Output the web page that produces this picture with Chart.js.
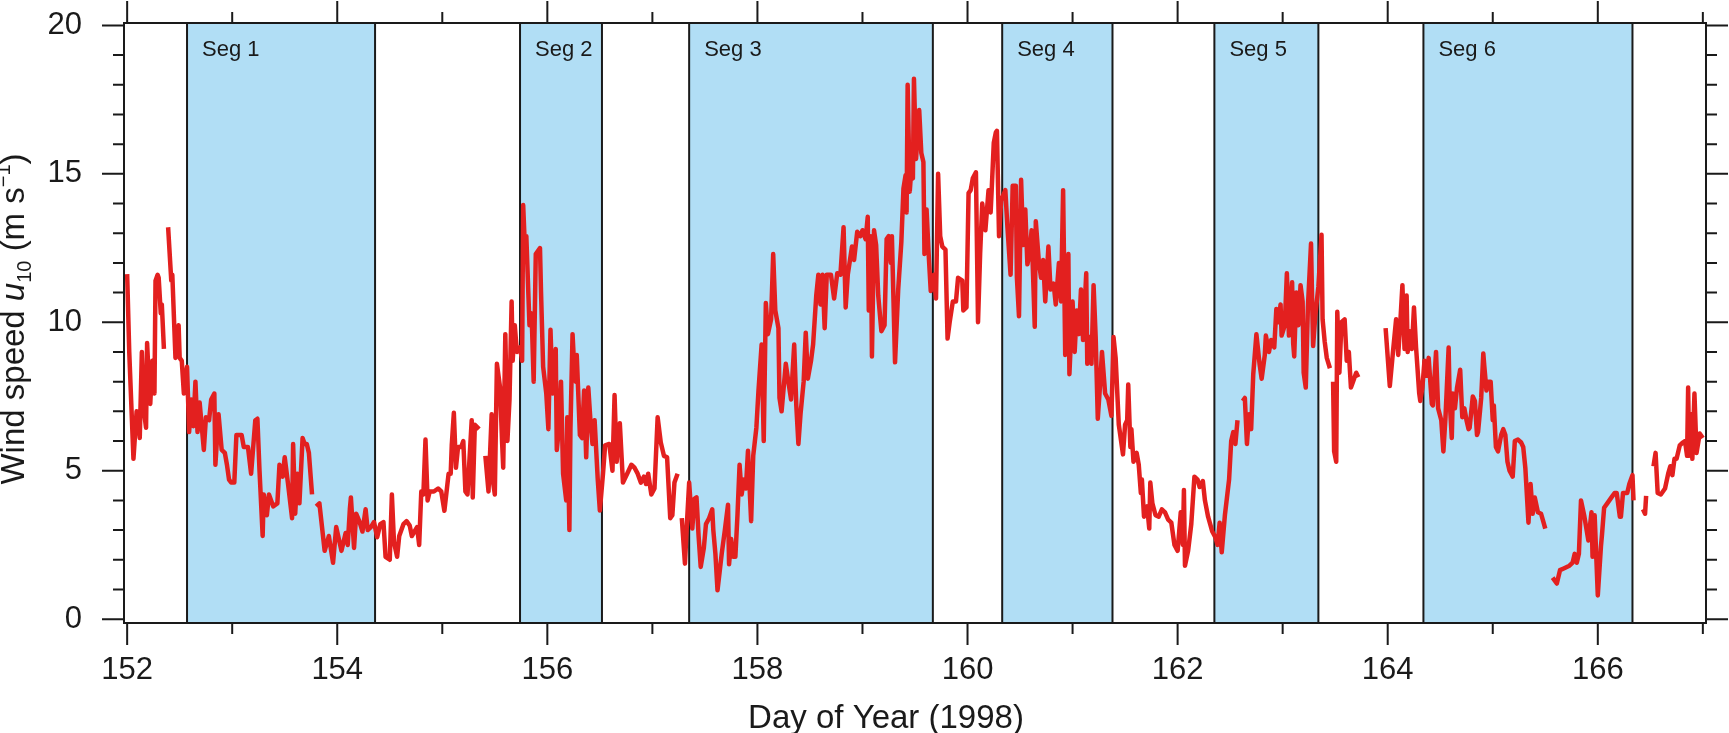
<!DOCTYPE html>
<html>
<head>
<meta charset="utf-8">
<title>Wind speed u10, Day of Year 1998</title>
<script src="https://cdn.jsdelivr.net/npm/chart.js@4.4.1/dist/chart.umd.min.js"></script>
<style>
    html, body { margin: 0; padding: 0; background: #fff; }
    #wrap { width: 1729px; height: 733px; }
</style>
</head>
<body>
<div id="wrap"><canvas id="windChart" width="1729" height="733"></canvas></div>
<script>
// Day of year (1998) and 10 m wind speed.
// A null speed marks a gap in the record.
const days = [
    152.00,152.02,152.06,152.09,152.11,152.12,152.14,152.16,152.18,152.19,
    152.21,152.22,152.24,152.26,152.27,152.29,152.30,152.32,152.33,152.35,
    152.37,152.39,152.42,152.43,152.46,152.49,152.50,152.52,152.54,152.57,
    152.59,152.61,152.63,152.65,152.67,152.69,152.71,152.73,152.75,152.78,
    152.80,152.83,152.84,152.87,152.90,152.93,152.95,152.97,152.99,153.02,
    153.04,153.09,153.11,153.15,153.18,153.22,153.24,153.26,153.29,153.30,
    153.33,153.35,153.39,153.43,153.45,153.48,153.50,153.53,153.57,153.58,
    153.60,153.62,153.64,153.67,153.69,153.71,153.73,153.76,153.78,153.80,
    153.83,153.88,153.92,153.96,153.99,154.04,154.08,154.10,154.12,154.13,
    154.16,154.18,154.21,154.24,154.27,154.29,154.32,154.35,154.38,154.41,
    154.44,154.46,154.50,154.52,154.54,154.57,154.59,154.63,154.66,154.69,
    154.71,154.76,154.78,154.80,154.82,154.84,154.86,154.88,154.92,154.96,
    154.99,155.02,155.06,155.08,155.09,155.11,155.13,155.15,155.18,155.20,
    155.22,155.24,155.28,155.29,155.31,155.35,155.38,155.41,155.44,155.47,
    155.48,155.50,155.52,155.55,155.57,155.58,155.60,155.62,155.64,155.66,
    155.67,155.69,155.71,155.74,155.76,155.77,155.79,155.80,155.83,155.85,
    155.87,155.89,155.93,155.94,155.96,155.99,156.01,156.03,156.05,156.08,
    156.09,156.11,156.13,156.15,156.18,156.19,156.21,156.22,156.24,156.25,
    156.27,156.28,156.31,156.33,156.35,156.37,156.39,156.41,156.43,156.45,
    156.48,156.50,156.53,156.55,156.59,156.62,156.64,156.66,156.69,156.72,
    156.76,156.80,156.83,156.86,156.89,156.92,156.94,156.96,156.99,157.02,
    157.05,157.08,157.11,157.14,157.17,157.19,157.21,157.24,157.26,157.28,
    157.31,157.33,157.35,157.38,157.40,157.42,157.44,157.46,157.49,157.51,
    157.54,157.57,157.58,157.60,157.62,157.66,157.69,157.72,157.73,157.75,
    157.77,157.79,157.81,157.83,157.85,157.87,157.89,157.91,157.94,157.96,
    157.99,158.01,158.04,158.06,158.08,158.10,158.13,158.15,158.17,158.20,
    158.21,158.23,158.27,158.29,158.32,158.35,158.37,158.39,158.41,158.44,
    158.46,158.48,158.51,158.53,158.56,158.58,158.60,158.62,158.64,158.66,
    158.70,158.73,158.76,158.79,158.82,158.84,158.86,158.90,158.92,158.95,
    158.98,159.00,159.03,159.05,159.06,159.08,159.09,159.11,159.13,159.15,
    159.18,159.21,159.23,159.25,159.27,159.28,159.31,159.34,159.37,159.39,
    159.41,159.42,159.43,159.45,159.46,159.48,159.49,159.51,159.54,159.56,
    159.58,159.59,159.61,159.63,159.65,159.68,159.70,159.72,159.74,159.76,
    159.79,159.81,159.83,159.86,159.89,159.91,159.95,159.96,159.99,160.01,
    160.03,160.05,160.08,160.10,160.12,160.14,160.17,160.20,160.22,160.23,
    160.25,160.27,160.28,160.30,160.32,160.36,160.38,160.41,160.43,160.46,
    160.47,160.49,160.51,160.53,160.55,160.57,160.59,160.61,160.64,160.65,
    160.68,160.70,160.72,160.74,160.77,160.79,160.82,160.84,160.87,160.89,
    160.91,160.93,160.96,160.97,161.00,161.02,161.04,161.06,161.08,161.10,
    161.13,161.14,161.16,161.18,161.20,161.22,161.24,161.26,161.28,161.31,
    161.34,161.37,161.39,161.41,161.44,161.48,161.50,161.52,161.53,161.55,
    161.56,161.58,161.61,161.63,161.65,161.66,161.68,161.71,161.73,161.74,
    161.76,161.79,161.82,161.85,161.88,161.91,161.94,161.97,162.00,162.03,
    162.05,162.06,162.07,162.10,162.13,162.16,162.19,162.21,162.24,162.26,
    162.29,162.33,162.36,162.38,162.40,162.42,162.45,162.49,162.51,162.53,
    162.55,162.57,162.60,162.62,162.64,162.66,162.68,162.70,162.72,162.75,
    162.78,162.80,162.83,162.84,162.87,162.89,162.92,162.94,162.96,162.98,
    162.99,163.02,163.04,163.06,163.09,163.10,163.11,163.13,163.15,163.17,
    163.19,163.20,163.22,163.24,163.27,163.28,163.29,163.31,163.34,163.37,
    163.38,163.40,163.42,163.45,163.47,163.48,163.49,163.51,163.52,163.54,
    163.56,163.59,163.61,163.63,163.65,163.67,163.70,163.72,163.85,163.98,
    164.02,164.05,164.08,164.10,164.12,164.14,164.16,164.18,164.19,164.21,
    164.23,164.25,164.27,164.30,164.31,164.33,164.35,164.37,164.39,164.42,
    164.43,164.46,164.48,164.51,164.53,164.55,164.58,164.59,164.61,164.62,
    164.64,164.66,164.69,164.71,164.73,164.75,164.77,164.78,164.81,164.83,
    164.85,164.86,164.89,164.91,164.92,164.94,164.96,164.98,165.00,165.01,
    165.03,165.05,165.08,165.10,165.12,165.14,165.16,165.19,165.21,165.24,
    165.27,165.29,165.31,165.34,165.36,165.38,165.40,165.43,165.46,165.48,
    165.50,165.53,165.57,165.61,165.64,165.67,165.70,165.73,165.76,165.78,
    165.80,165.82,165.84,165.87,165.91,165.94,165.95,165.97,166.00,166.03,
    166.04,166.06,166.09,166.13,166.16,166.18,166.21,166.22,166.24,166.28,
    166.30,166.33,166.34,166.38,166.43,166.45,166.46,166.50,166.53,166.55,
    166.57,166.60,166.64,166.67,166.69,166.71,166.73,166.75,166.78,166.81,
    166.83,166.85,166.86,166.87,166.89,166.90,166.92,166.94,166.97,167.00
];

const windSpeed = [
    11.62,9.0,5.4,7.0,6.6,6.1,9.0,7.0,6.45,9.3,
    7.8,7.25,8.7,7.6,11.4,11.6,11.5,10.3,10.6,9.1,
    null,13.2,11.4,11.6,8.8,9.9,8.8,8.7,7.6,8.5,
    6.3,7.4,6.5,8.0,6.3,7.3,6.5,5.7,6.8,6.7,
    7.4,7.6,5.2,6.9,5.7,5.6,5.2,4.7,4.6,4.6,
    6.2,6.2,5.8,5.8,4.9,6.7,6.75,5.0,2.8,4.2,
    3.5,4.2,3.8,3.9,5.2,4.8,5.45,4.6,3.4,5.9,
    3.55,4.9,3.9,6.1,5.9,5.9,5.6,4.2,null,3.8,
    3.9,2.3,2.8,1.9,3.1,2.3,2.9,2.5,3.7,4.1,
    2.4,3.55,3.3,2.95,3.7,3.0,3.1,3.27,2.76,3.2,
    3.27,2.1,2.0,4.2,2.6,2.1,2.8,3.2,3.3,3.15,
    2.8,3.1,2.5,4.3,4.2,6.05,4.0,4.3,4.3,4.4,
    4.3,3.65,4.9,4.9,5.85,6.95,5.1,5.8,5.8,6.0,
    4.3,4.2,6.7,4.1,6.55,6.4,null,5.5,4.3,6.9,
    4.7,4.2,8.6,7.8,5.9,5.1,9.6,6.0,7.4,10.7,
    8.7,9.9,9.0,9.15,8.7,13.95,12.2,12.9,9.9,10.3,
    8.0,12.3,12.5,11.0,8.5,7.6,6.4,9.75,7.6,9.1,
    5.7,6.4,8.0,4.9,4.0,6.8,3.0,6.4,9.6,8.9,
    8.0,8.9,6.2,6.1,7.7,5.45,7.8,6.7,5.9,6.7,
    4.7,3.66,4.9,5.85,5.9,5.0,7.55,5.3,6.6,4.6,
    4.9,5.2,5.1,4.9,4.6,4.8,4.55,4.9,4.2,4.4,
    6.8,5.95,5.5,5.45,3.4,3.5,4.6,4.9,null,3.4,
    1.87,3.3,4.6,3.05,4.05,4.1,2.8,1.76,2.4,3.2,
    3.4,3.7,3.0,2.2,0.97,2.2,3.0,3.85,1.85,2.7,
    2.1,2.1,3.5,5.2,4.2,4.7,4.4,5.67,3.3,5.5,
    6.45,7.7,9.25,6.0,10.65,9.6,10.1,12.3,10.4,9.8,
    7.45,7.0,8.6,8.1,7.4,9.25,7.2,5.9,6.9,8.0,
    9.65,8.1,8.7,9.25,10.9,11.6,10.6,11.6,9.8,11.6,
    11.6,10.8,11.65,11.6,13.2,10.5,11.6,12.55,12.1,13.05,
    12.9,13.1,12.8,13.55,10.4,12.9,8.85,13.1,12.6,10.9,
    9.7,9.9,12.8,12.9,12.0,12.9,8.65,11.1,12.7,14.5,
    14.95,13.7,18.0,14.4,14.9,14.85,18.2,15.5,17.15,15.7,
    15.4,12.3,13.8,12.3,11.05,11.6,10.8,15.0,12.9,12.55,
    12.45,9.45,10.0,10.7,10.7,11.5,11.4,10.4,10.5,14.35,
    14.45,14.85,15.05,10.0,12.3,14.0,13.1,14.45,13.7,14.45,
    16.05,16.4,16.45,12.9,14.1,14.45,13.2,11.6,14.6,14.6,
    11.5,10.2,14.8,12.6,13.8,11.95,12.3,13.1,9.85,13.4,
    12.0,11.5,12.1,10.7,12.55,11.1,11.3,10.6,12.0,10.7,
    14.45,8.9,12.3,8.25,10.7,9.0,10.4,9.6,11.1,9.4,
    11.65,8.6,9.5,8.6,11.25,9.5,6.75,7.8,9.0,7.6,
    7.4,6.85,9.5,8.8,6.55,5.55,6.55,6.7,7.9,5.8,
    6.4,5.3,5.6,5.2,4.25,4.7,3.45,3.8,3.05,4.6,
    3.9,3.5,3.45,3.7,3.6,3.35,3.25,2.5,2.3,3.6,
    2.5,4.35,1.8,2.3,3.2,4.8,4.7,4.45,4.65,4.0,
    3.45,2.95,2.75,2.5,3.25,2.25,3.5,4.7,6.0,6.3,
    5.9,6.7,null,7.35,7.45,5.9,6.9,6.4,8.25,9.6,
    8.6,8.1,8.9,9.55,9.0,9.4,9.15,10.45,10.0,10.6,
    9.55,9.9,11.65,9.55,11.35,9.3,8.85,11.0,9.9,11.25,
    10.7,8.3,7.8,10.5,12.65,10.8,9.2,10.2,11.2,12.95,
    10.1,9.35,8.8,8.45,null,8.0,5.65,5.3,10.35,8.3,
    10.0,10.1,8.7,9.0,7.8,8.0,8.3,8.15,null,9.8,
    7.85,9.0,10.1,8.9,10.0,11.25,9.1,10.9,9.0,9.7,
    9.1,10.5,9.15,7.6,7.35,7.8,8.7,8.2,8.8,7.25,
    7.2,9.0,7.1,6.7,5.65,6.8,9.15,7.35,6.1,7.6,
    7.1,7.8,8.4,6.8,7.1,6.7,6.4,6.45,7.5,7.35,
    6.2,6.3,7.45,8.95,8.5,7.7,8.0,8.0,6.7,7.2,
    5.8,5.65,6.2,6.4,6.2,5.3,5.0,4.8,6.0,6.05,
    5.95,5.8,5.1,3.25,4.55,3.55,4.1,3.6,3.55,3.3,
    3.05,null,1.4,1.2,1.65,1.7,1.75,1.8,1.9,2.2,
    1.9,2.2,4.0,3.5,2.65,3.6,2.1,3.5,0.8,2.45,
    2.85,3.75,3.9,4.1,4.25,4.25,3.45,3.45,4.25,4.25,
    4.55,4.85,4.0,null,3.7,3.55,4.15,null,5.15,5.6,
    4.25,4.2,4.4,4.9,5.15,4.85,5.4,5.4,5.85,5.95,
    6.0,5.5,7.8,5.5,6.9,5.4,7.6,5.6,6.25,6.1
];

// shaded analysis segments (day of year)
const segNames = ['Seg 1', 'Seg 2', 'Seg 3', 'Seg 4', 'Seg 5', 'Seg 6'];
const segStart = [152.57, 155.74, 157.35, 160.33, 162.35, 164.34];
const segEnd = [154.36, 156.52, 159.67, 161.38, 163.34, 166.33];

const xMajorTicks = [152, 154, 156, 158, 160, 162, 164, 166];
const xMinorTicks = [153, 155, 157, 159, 161, 163, 165, 167];
const yMajorTicks = [0, 5, 10, 15, 20];
const yMinorTicks = [1, 2, 3, 4, 6, 7, 8, 9, 11, 12, 13, 14, 16, 17, 18, 19];

const FONT = '"Liberation Sans", Arial, Helvetica, sans-serif';
const LINE_RED = '#e3201f';
const SEG_FILL = '#b1def5';
const INK = '#1a1a1a';

// blue segment bands, their edges and labels, under the data line
const segmentPlugin = {
    id: 'segments',
    beforeDatasetsDraw(chart) {
        const { ctx, chartArea: a, scales: { x } } = chart;
        ctx.save();
        segStart.forEach((s, i) => {
            const x0 = x.getPixelForValue(s);
            const x1 = x.getPixelForValue(segEnd[i]);
            ctx.fillStyle = SEG_FILL;
            ctx.fillRect(x0, a.top, x1 - x0, a.bottom - a.top);
            ctx.strokeStyle = INK;
            ctx.lineWidth = 2;
            ctx.beginPath();
            ctx.moveTo(x0, a.top); ctx.lineTo(x0, a.bottom);
            ctx.moveTo(x1, a.top); ctx.lineTo(x1, a.bottom);
            ctx.stroke();
            ctx.fillStyle = INK;
            ctx.font = '22px ' + FONT;
            ctx.textAlign = 'left';
            ctx.textBaseline = 'alphabetic';
            ctx.fillText(segNames[i], x0 + 15, a.top + 33);
        });
        ctx.restore();
    }
};

// frame, outward ticks on all four sides, and the two axis titles
const framePlugin = {
    id: 'frame',
    afterDraw(chart) {
        const { ctx, chartArea: a, scales: { x, y } } = chart;
        ctx.save();
        ctx.strokeStyle = INK;
        ctx.lineWidth = 2;
        ctx.strokeRect(a.left, a.top, a.right - a.left, a.bottom - a.top);

        ctx.beginPath();
        const xTick = (v, len) => {
            const px = x.getPixelForValue(v);
            ctx.moveTo(px, a.bottom); ctx.lineTo(px, a.bottom + len);
            ctx.moveTo(px, a.top); ctx.lineTo(px, a.top - len);
        };
        const yTick = (v, len) => {
            const py = y.getPixelForValue(v);
            ctx.moveTo(a.left, py); ctx.lineTo(a.left - len, py);
            ctx.moveTo(a.right, py); ctx.lineTo(a.right + len, py);
        };
        xMajorTicks.forEach(v => xTick(v, 22));
        xMinorTicks.forEach(v => xTick(v, 11));
        yMajorTicks.forEach(v => yTick(v, 22));
        yMinorTicks.forEach(v => yTick(v, 11));
        ctx.stroke();

        ctx.fillStyle = INK;
        ctx.textBaseline = 'alphabetic';

        // x title
        ctx.font = '33px ' + FONT;
        ctx.textAlign = 'center';
        ctx.fillText('Day of Year (1998)', 886, 728);

        // y title with italic u, subscript 10 and superscript -1
        const parts = [
            { t: 'Wind speed ', f: '33px ' + FONT, dy: 0 },
            { t: 'u', f: 'italic 33px ' + FONT, dy: 0 },
            { t: '10', f: '20px ' + FONT, dy: 7 },
            { t: ' (m s', f: '33px ' + FONT, dy: 0 },
            { t: '\u22121', f: '20px ' + FONT, dy: -14 },
            { t: ')', f: '33px ' + FONT, dy: 0 }
        ];
        let total = 0;
        parts.forEach(p => { ctx.font = p.f; p.w = ctx.measureText(p.t).width; total += p.w; });
        ctx.translate(24, 319);
        ctx.rotate(-Math.PI / 2);
        ctx.textAlign = 'left';
        let cx = -total / 2;
        parts.forEach(p => {
            ctx.font = p.f;
            ctx.fillText(p.t, cx, p.dy);
            cx += p.w;
        });
        ctx.restore();
    }
};

const points = days.map((d, i) => ({ x: d, y: windSpeed[i] }));

new Chart(document.getElementById('windChart'), {
    type: 'line',
    data: {
        datasets: [{
            data: points,
            borderColor: LINE_RED,
            borderWidth: 4.5,
            borderJoinStyle: 'round',
            pointRadius: 0,
            tension: 0,
            spanGaps: false
        }]
    },
    options: {
        responsive: false,
        animation: false,
        devicePixelRatio: 1,
        layout: { padding: { top: 23, right: 23, left: 0, bottom: 0 } },
        plugins: {
            legend: { display: false },
            tooltip: { enabled: false }
        },
        scales: {
            x: {
                type: 'linear',
                min: 151.97,
                max: 167.03,
                afterBuildTicks: s => { s.ticks = xMajorTicks.map(v => ({ value: v })); },
                afterFit: s => { s.height = 110; s.paddingLeft = 0; s.paddingRight = 0; },
                grid: { display: false, drawTicks: false },
                border: { display: false },
                ticks: {
                    autoSkip: false,
                    maxRotation: 0,
                    padding: 29,
                    color: INK,
                    font: { family: FONT, size: 31 }
                }
            },
            y: {
                min: -0.13,
                max: 20.08,
                afterBuildTicks: s => { s.ticks = yMajorTicks.map(v => ({ value: v })); },
                afterFit: s => { s.width = 124; s.paddingTop = 0; s.paddingBottom = 0; },
                grid: { display: false, drawTicks: false },
                border: { display: false },
                ticks: {
                    padding: 42,
                    color: INK,
                    font: { family: FONT, size: 31 }
                }
            }
        }
    },
    plugins: [segmentPlugin, framePlugin]
});
</script>
</body>
</html>
